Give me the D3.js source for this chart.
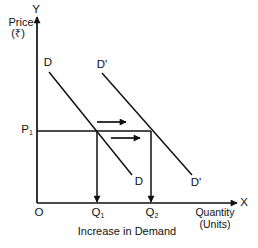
<!DOCTYPE html>
<html>
<head>
<meta charset="utf-8">
<script src="https://cdn.jsdelivr.net/npm/d3@7"></script>
<style>
  body { margin: 0; background: #fff; }
  svg { display: block; font-family: 'Liberation Sans', Arial, 'Noto Sans', sans-serif; }
</style>
</head>
<body>
<div id="chart"></div>
<script>
// demand curves (quantity, price) in chart units
const demand = [{ q: 12, p: 131 }, { q: 95, p: 28 }]
const demandNew = [{ q: 65, p: 130 }, { q: 155, p: 28 }]
const priceP1 = 72
const qtyQ1 = 60
const qtyQ2 = 114
const shiftArrows = [
  { from: 60, to: 89, p: 81 },
  { from: 74, to: 103, p: 65 }
]

const margin = { top: 20, left: 37, right: 20, bottom: 45 }
const width = 258 - margin.left - margin.right
const height = 248 - margin.top - margin.bottom

const svg = d3
  .select('#chart')
  .append('svg')
  .attr('width', width + margin.left + margin.right)
  .attr('height', height + margin.top + margin.bottom)
  .append('g')
  .attr('transform', 'translate(' + margin.left + ',' + margin.top + ')')

const x = d3.scaleLinear().domain([0, 200]).range([0, 200])
const y = d3.scaleLinear().domain([0, 183]).range([height, 0])

const defs = svg.append('defs')
defs
  .append('marker')
  .attr('id', 'head')
  .attr('viewBox', '0 0 10 10')
  .attr('refX', 9)
  .attr('refY', 5)
  .attr('markerWidth', 9)
  .attr('markerHeight', 7)
  .attr('markerUnits', 'userSpaceOnUse')
  .attr('orient', 'auto')
  .append('path')
  .attr('d', 'M0,0L10,5L0,10Z')
  .attr('fill', '#111')

const ink = '#111'

// axes
svg
  .append('line')
  .attr('x1', x(0)).attr('y1', y(0))
  .attr('x2', x(0)).attr('y2', y(186))
  .attr('stroke', ink).attr('stroke-width', 1.7)
  .attr('marker-end', 'url(#head)')
svg
  .append('line')
  .attr('x1', x(0)).attr('y1', y(0))
  .attr('x2', x(200)).attr('y2', y(0))
  .attr('stroke', ink).attr('stroke-width', 1.7)
  .attr('marker-end', 'url(#head)')

const line = d3.line().x(d => x(d.q)).y(d => y(d.p))

svg.append('path').datum(demand).attr('d', line)
  .attr('stroke', ink).attr('stroke-width', 1.5).attr('fill', 'none')
svg.append('path').datum(demandNew).attr('d', line)
  .attr('stroke', ink).attr('stroke-width', 1.5).attr('fill', 'none')

// P1 horizontal
svg.append('line')
  .attr('x1', x(0)).attr('y1', y(priceP1))
  .attr('x2', x(qtyQ2)).attr('y2', y(priceP1))
  .attr('stroke', ink).attr('stroke-width', 1.5)

// vertical arrows down to Q1, Q2
;[qtyQ1, qtyQ2].forEach(q => {
  svg.append('line')
    .attr('x1', x(q)).attr('y1', y(priceP1))
    .attr('x2', x(q)).attr('y2', y(0) - 1)
    .attr('stroke', ink).attr('stroke-width', 1.5)
    .attr('marker-end', 'url(#head)')
})

// shift arrows
svg.selectAll('.shift')
  .data(shiftArrows)
  .enter()
  .append('line')
  .attr('class', 'shift')
  .attr('x1', d => x(d.from)).attr('y1', d => y(d.p))
  .attr('x2', d => x(d.to)).attr('y2', d => y(d.p))
  .attr('stroke', ink).attr('stroke-width', 1.7)
  .attr('marker-end', 'url(#head)')

// labels
function label(text, px, py, anchor, size) {
  return svg.append('text')
    .text(text)
    .attr('x', px).attr('y', py)
    .attr('text-anchor', anchor || 'middle')
    .attr('dominant-baseline', 'middle')
    .attr('font-size', size || 11.5)
    .attr('fill', ink)
}
function sublabel(main, sub, px, py) {
  const t = svg.append('text')
    .attr('x', px).attr('y', py)
    .attr('text-anchor', 'middle')
    .attr('dominant-baseline', 'middle')
    .attr('font-size', 11.5)
    .attr('fill', ink)
  t.append('tspan').text(main)
  t.append('tspan').text(sub).attr('font-size', 7).attr('dy', 3)
  return t
}

label('Y', x(0) - 1, -10)
label('X', x(200) + 7, y(0))
label('Price', -16, 3, 'middle', 11)
label('(₹)', -19, 14, 'middle', 11)
label('O', x(0) + 2, y(0) + 10)
sublabel('P', '1', x(0) - 10, y(priceP1) - 1)
sublabel('Q', '1', x(qtyQ1) + 1, y(0) + 10)
sublabel('Q', '2', x(qtyQ2) + 1, y(0) + 10)
label('D', x(demand[0].q) - 1, y(demand[0].p) - 9)
label('D', x(demand[1].q) + 7, y(demand[1].p) + 7)
label("D'", x(demandNew[0].q), y(demandNew[0].p) - 8)
label("D'", x(demandNew[1].q) + 4, y(demandNew[1].p) + 8)
label('Quantity', x(178), y(0) + 10, 'middle', 10.5)
label('(Units)', x(178), y(0) + 22, 'middle', 10.5)
label('Increase in Demand', x(90), y(0) + 29, 'middle', 11)
</script>
</body>
</html>
